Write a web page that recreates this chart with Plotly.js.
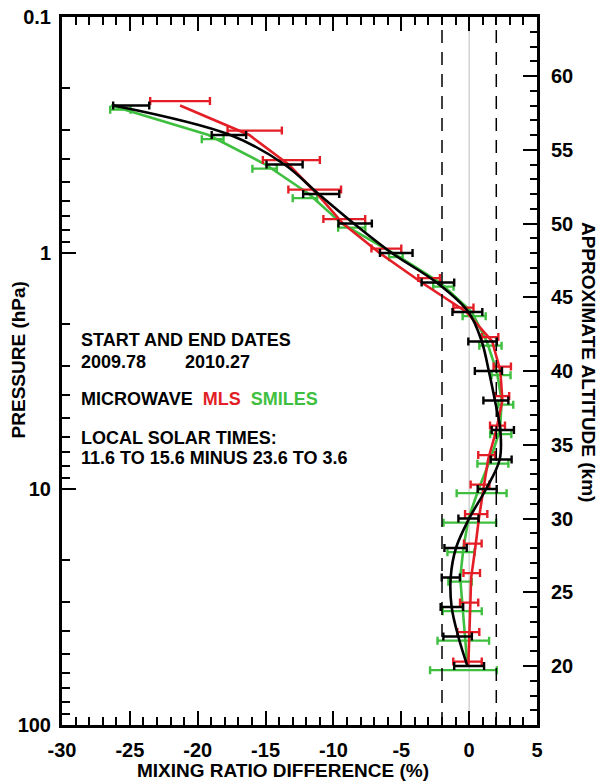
<!DOCTYPE html>
<html>
<head>
<meta charset="utf-8">
<script src="https://cdn.plot.ly/plotly-3.0.1.min.js"></script>
<style>html,body{margin:0;padding:0;background:#fff;}#chart{width:601px;height:781px;}</style>
</head>
<body>
<div id="chart"></div>
<script>
// Approximate altitude levels (km)
const altitude = [20,22,24,26,28,30,32,34,36,38,40,42,44,46,48,50,52,54,56,58];

// MLS (red)
const mlsLine   = [-0.06,0.0,0.07,0.15,0.45,0.72,1.05,1.4,2.0,2.45,2.3,1.7,-0.2,-3.5,-6.6,-9.3,-11.2,-13.3,-16.2,-21.3];
const mlsCenter = [-0.12,-0.06,0.0,0.19,0.27,0.52,0.8,1.29,2.09,2.42,2.44,1.54,-0.42,-2.95,-6.1,-9.2,-11.38,-13.1,-15.8,-21.3];
const mlsHalf   = [1.05,0.81,0.67,0.61,0.65,0.82,0.69,0.62,0.55,0.53,0.64,0.61,0.74,0.8,1.1,1.54,1.94,2.1,2.0,2.2];

// Combined microwave (black)
const mwLine   = [-0.13,-0.8,-1.29,-1.36,-0.97,0.0,1.25,2.25,2.3,1.9,1.45,0.93,-0.05,-2.4,-5.7,-8.5,-11.1,-13.6,-17.6,-26.2];
const mwCenter = [0.0,-0.85,-1.27,-1.35,-1.0,-0.05,1.33,2.36,2.48,1.97,1.42,0.99,-0.13,-2.3,-5.37,-8.4,-10.9,-13.6,-17.7,-24.9];
const mwHalf   = [1.1,1.05,0.83,0.67,0.82,0.74,0.7,0.77,0.82,0.92,1.0,1.05,1.1,1.2,1.2,1.23,1.33,1.33,1.27,1.33];

// SMILES (green)
const smLine   = [-0.13,-0.3,-0.46,-0.66,-0.42,-0.05,0.7,1.56,2.27,2.4,2.03,1.3,0.2,-2.15,-5.6,-9.4,-11.8,-15.0,-19.2,-26.4];
const smCenter = [-0.42,-0.43,-0.51,-0.67,-0.6,0.05,0.92,1.75,2.33,2.7,2.35,1.57,0.37,-1.9,-5.4,-8.65,-12.1,-15.07,-18.9,-25.7];
const smHalf   = [2.46,1.9,1.44,0.86,1.0,1.94,1.84,1.14,0.78,0.55,0.7,0.82,0.85,0.75,0.5,1.0,0.9,0.9,0.8,0.75];

const xTicks = [-30,-25,-20,-15,-10,-5,0,5];
const xTickText = ['-30','-25','-20','-15','-10','-5','0','5'];

const RED = '#e41e26', GREEN = '#3fbf3f', BLACK = '#000000';
const FONT = 'Liberation Sans, Arial, sans-serif';

function lineTrace(x, color, shape) {
  return {x: x, y: altitude, yaxis: 'y2', type: 'scatter', mode: 'lines',
    line: {color: color, width: 2.6, shape: shape || 'linear', smoothing: 1}, hoverinfo: 'skip', showlegend: false};
}
function barTrace(c, h, color, dz) {
  return {x: c, y: altitude.map(a => a + dz), yaxis: 'y2', type: 'scatter', mode: 'markers',
    marker: {size: 1, color: 'rgba(0,0,0,0)'},
    error_x: {type: 'data', array: h, symmetric: true, color: color, thickness: 2.4, width: 4},
    hoverinfo: 'skip', showlegend: false};
}

const data = [
  // empty trace so the pressure axis (y) is drawn
  {x: [], y: [], type: 'scatter', mode: 'lines', xaxis: 'x', yaxis: 'y', hoverinfo: 'skip', showlegend: false},
  barTrace(smCenter, smHalf, GREEN, -0.28),
  lineTrace(smLine, GREEN),
  barTrace(mlsCenter, mlsHalf, RED, 0.3),
  lineTrace(mlsLine, RED),
  barTrace(mwCenter, mwHalf, BLACK, 0),
  lineTrace(mwLine, BLACK, 'spline')
];

const tickFont = {family: FONT, size: 20, color: '#000', weight: 'bold'};
const textFont = {family: FONT, size: 18, color: '#000', weight: 'bold'};
const titleFont = {family: FONT, size: 19, color: '#000', weight: 'bold'};

const layout = {
  width: 601, height: 781,
  margin: {l: 62, r: 64, t: 17, b: 56},
  paper_bgcolor: '#fff', plot_bgcolor: '#fff',
  showlegend: false,
  xaxis: {
    range: [-30, 5], tickmode: 'array', tickvals: xTicks, ticktext: xTickText,
    ticks: 'inside', ticklen: 14, tickwidth: 2, tickcolor: '#000',
    minor: {dtick: 1, ticks: 'inside', ticklen: 8, tickwidth: 2, tickcolor: '#000'},
    showline: true, linewidth: 3, linecolor: '#000', mirror: 'ticks',
    showgrid: false, zeroline: false, tickfont: tickFont, ticklabelstandoff: 5, fixedrange: true
  },
  yaxis: {
    type: 'log', range: [2, -1], dtick: 1,
    ticks: 'inside', ticklen: 14, tickwidth: 2, tickcolor: '#000',
    minor: {dtick: 'D1', ticks: 'inside', ticklen: 8, tickwidth: 2, tickcolor: '#000'},
    showline: true, linewidth: 3, linecolor: '#000',
    showgrid: false, zeroline: false, tickfont: tickFont, ticklabelstandoff: 4, fixedrange: true
  },
  yaxis2: {
    overlaying: 'y', side: 'right', range: [16, 64], dtick: 5, tick0: 0,
    ticks: 'inside', ticklen: 14, tickwidth: 2, tickcolor: '#000',
    minor: {dtick: 1, ticks: 'inside', ticklen: 7, tickwidth: 2, tickcolor: '#000'},
    showline: true, linewidth: 3, linecolor: '#000',
    showgrid: false, zeroline: false, tickfont: tickFont, ticklabelstandoff: 7, fixedrange: true
  },
  shapes: [
    {type: 'line', xref: 'x', yref: 'paper', x0: 0, x1: 0, y0: 0, y1: 1, layer: 'below',
     line: {color: '#bdbdbd', width: 1}},
    {type: 'line', xref: 'x', yref: 'paper', x0: -2, x1: -2, y0: 0, y1: 1,
     line: {color: '#000', width: 1.5, dash: '13px,9px'}},
    {type: 'line', xref: 'x', yref: 'paper', x0: 2, x1: 2, y0: 0, y1: 1,
     line: {color: '#000', width: 1.5, dash: '13px,9px'}}
  ],
  annotations: [
    {text: 'START AND END DATES', xref: 'paper', yref: 'paper', x: 0.036, y: 0.5438, xanchor: 'left', yanchor: 'middle', showarrow: false, font: textFont},
    {text: '2009.78', xref: 'paper', yref: 'paper', x: 0.036, y: 0.5127, xanchor: 'left', yanchor: 'middle', showarrow: false, font: textFont},
    {text: '2010.27', xref: 'paper', yref: 'paper', x: 0.2547, y: 0.5127, xanchor: 'left', yanchor: 'middle', showarrow: false, font: textFont},
    {text: 'MICROWAVE&nbsp;&nbsp;<span style="color:' + RED + '">MLS</span>&nbsp;&nbsp;<span style="color:' + GREEN + '">SMILES</span>',
     xref: 'paper', yref: 'paper', x: 0.036, y: 0.4605, xanchor: 'left', yanchor: 'middle', showarrow: false, font: textFont},
    {text: 'LOCAL SOLAR TIMES:', xref: 'paper', yref: 'paper', x: 0.036, y: 0.4054, xanchor: 'left', yanchor: 'middle', showarrow: false, font: textFont},
    {text: '11.6 TO 15.6 MINUS 23.6 TO 3.6', xref: 'paper', yref: 'paper', x: 0.036, y: 0.3771, xanchor: 'left', yanchor: 'middle', showarrow: false, font: textFont},
    {text: 'PRESSURE (hPa)', xref: 'paper', yref: 'paper', x: -0.0926, y: 0.515, xanchor: 'center', yanchor: 'middle', textangle: -90, showarrow: false, font: titleFont},
    {text: 'APPROXIMATE ALTITUDE (km)', xref: 'paper', yref: 'paper', x: 1.107, y: 0.513, xanchor: 'center', yanchor: 'middle', textangle: 90, showarrow: false, font: titleFont},
    {text: 'MIXING RATIO DIFFERENCE (%)', xref: 'paper', yref: 'paper', x: 0.465, y: -0.0636, xanchor: 'center', yanchor: 'middle', showarrow: false, font: titleFont}
  ]
};

Plotly.newPlot('chart', data, layout, {staticPlot: true, displayModeBar: false});
</script>
</body>
</html>
